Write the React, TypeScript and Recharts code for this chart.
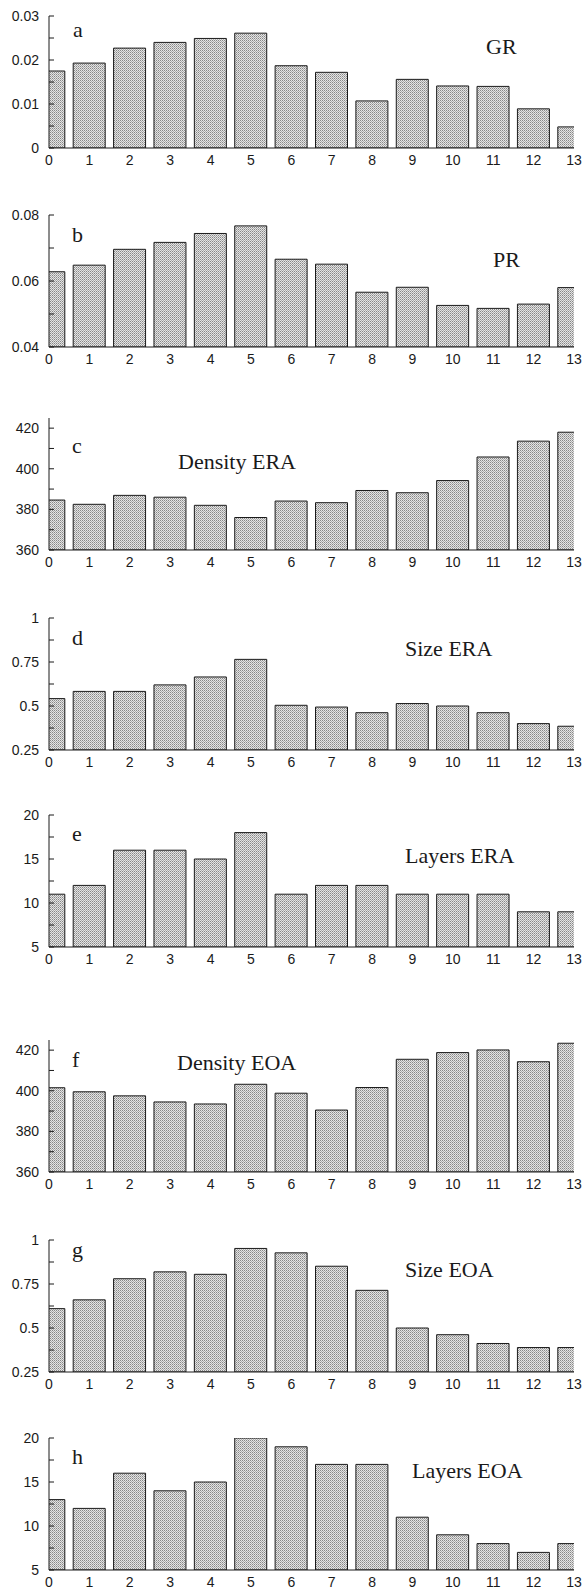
import React from "react";
import { BarChart, Bar, XAxis, YAxis } from "recharts";

// x positions (0..13) shared by every panel
const positions = [0, 1, 2, 3, 4, 5, 6, 7, 8, 9, 10, 11, 12, 13];
const topTicks = [1, 2, 3, 4, 5, 6, 7, 8, 9, 10, 11, 12];

const grValues = [0.0175, 0.0193, 0.0227, 0.024, 0.0249, 0.0261, 0.0187, 0.0172, 0.0107, 0.0156, 0.0141, 0.014, 0.0089, 0.0048];
const prValues = [0.0628, 0.0648, 0.0696, 0.0717, 0.0744, 0.0767, 0.0666, 0.0651, 0.0566, 0.0581, 0.0526, 0.0517, 0.053, 0.058];
const densityEra = [384.6, 382.5, 386.9, 386, 382, 376, 384.1, 383.3, 389.3, 388.2, 394.2, 405.8, 413.6, 418];
const sizeEra = [0.542, 0.583, 0.583, 0.62, 0.665, 0.765, 0.504, 0.494, 0.462, 0.514, 0.5, 0.462, 0.4, 0.385];
const layersEra = [11, 12, 16, 16, 15, 18, 11, 12, 12, 11, 11, 11, 9, 9];
const densityEoa = [401.5, 399.5, 397.5, 394.5, 393.5, 403.2, 398.8, 390.5, 401.6, 415.5, 418.8, 420.1, 414.3, 423.4];
const sizeEoa = [0.61, 0.66, 0.78, 0.819, 0.805, 0.952, 0.927, 0.851, 0.714, 0.5, 0.462, 0.412, 0.389, 0.389];
const layersEoa = [13, 12, 16, 14, 15, 20, 19, 17, 17, 11, 9, 8, 7, 8];

const grMajor = [0, 0.01, 0.02, 0.03];
const grMinor = [0.005, 0.015, 0.025];
const prMajor = [0.04, 0.06, 0.08];
const prMinor = [0.05, 0.07];
const densityMajor = [360, 380, 400, 420];
const densityMinor = [370, 390, 410];
const sizeMajor = [0.25, 0.5, 0.75, 1];
const sizeMinor = [0.375, 0.625, 0.875];
const layersMajor = [5, 10, 15, 20];
const layersMinor = [7.5, 12.5, 17.5];

const INK = "#1a1a1a";
const SANS = "'Liberation Sans', Arial, Helvetica, sans-serif";
const SERIF = "'Liberation Serif', 'Times New Roman', serif";
const PLOT_H = 132;
const M_TOP = 10;
const TICK_FONT = 14;

type PanelProps = {
  id: string;
  top: number;
  values: number[];
  domain: [number, number];
  major: number[];
  minor: number[];
  frameTop?: boolean;
};

function Panel({ id, top, values, domain, major, minor, frameTop = true }: PanelProps) {
  const data = positions.map((x, i) => ({ x, v: values[i] }));
  const ticks = [...major, ...minor].sort((a, b) => a - b);

  const leftTick = (p: any) => {
    const isMajor = major.includes(p.payload.value);
    return (
      <g>
        <line x1={p.x} x2={p.x + 5} y1={p.y} y2={p.y} stroke={INK} />
        {isMajor && (
          <text x={p.x - 10} y={p.y} dy="0.36em" textAnchor="end" fontSize={TICK_FONT} fontFamily={SANS} fill={INK}>
            {String(p.payload.value)}
          </text>
        )}
      </g>
    );
  };
  const rightTick = (p: any) => <line x1={p.x} x2={p.x - 5} y1={p.y} y2={p.y} stroke={INK} />;
  const topTick = (p: any) => <line x1={p.x} x2={p.x} y1={p.y} y2={p.y + 5} stroke={INK} />;
  const bottomTick = (p: any) => (
    <text x={p.x} y={p.y + 7} dy="0.71em" textAnchor="middle" fontSize={TICK_FONT} fontFamily={SANS} fill={INK}>
      {p.payload.value}
    </text>
  );

  return (
    <div style={{ position: "absolute", left: 0, top: top - M_TOP }}>
      <BarChart width={582} height={M_TOP + PLOT_H + 30} data={data} margin={{ top: M_TOP, right: 8, bottom: 0, left: 0 }}>
        <defs>
          <pattern id={`dots-${id}`} width="2" height="2" patternUnits="userSpaceOnUse">
            <rect width="2" height="2" fill="#e4e4e4" />
            <rect x="0" y="0" width="1" height="1" fill="#878787" />
            <rect x="1" y="1" width="1" height="1" fill="#acacac" />
          </pattern>
        </defs>
        <XAxis
          dataKey="x"
          type="number"
          domain={[0, 13]}
          ticks={positions}
          interval={0}
          allowDataOverflow
          height={30}
          tickLine={false}
          tickSize={0}
          tickMargin={0}
          axisLine={{ stroke: INK }}
          tick={bottomTick}
        />
        <XAxis
          xAxisId="top"
          orientation="top"
          dataKey="x"
          type="number"
          domain={[0, 13]}
          ticks={topTicks}
          interval={0}
          allowDataOverflow
          height={0}
          tickLine={false}
          tickSize={0}
          tickMargin={0}
          axisLine={frameTop ? { stroke: INK } : false}
          tick={topTick}
        />
        <YAxis
          type="number"
          domain={domain}
          ticks={ticks}
          interval={0}
          allowDataOverflow
          width={49}
          tickLine={false}
          tickSize={0}
          tickMargin={0}
          axisLine={{ stroke: INK }}
          tick={leftTick}
        />
        <YAxis
          yAxisId="right"
          orientation="right"
          type="number"
          domain={domain}
          ticks={ticks}
          interval={0}
          allowDataOverflow
          width={0}
          tickLine={false}
          tickSize={0}
          tickMargin={0}
          axisLine={{ stroke: INK }}
          tick={rightTick}
        />
        <Bar dataKey="v" barSize={32} fill={`url(#dots-${id})`} stroke={INK} strokeWidth={1} isAnimationActive={false} />
      </BarChart>
    </div>
  );
}

const labels: { text: string; x: number; y: number }[] = [
  { text: "a", x: 73, y: 37 },
  { text: "GR", x: 486, y: 54 },
  { text: "b", x: 72, y: 242 },
  { text: "PR", x: 493, y: 267 },
  { text: "c", x: 72, y: 453 },
  { text: "Density ERA", x: 178, y: 469 },
  { text: "d", x: 72, y: 645 },
  { text: "Size ERA", x: 405, y: 656 },
  { text: "e", x: 72, y: 841 },
  { text: "Layers ERA", x: 405, y: 863 },
  { text: "f", x: 72, y: 1067 },
  { text: "Density EOA", x: 177, y: 1070 },
  { text: "g", x: 72, y: 1257 },
  { text: "Size EOA", x: 405, y: 1277 },
  { text: "h", x: 72, y: 1464 },
  { text: "Layers EOA", x: 412, y: 1478 },
];

export default function App() {
  return (
    <div style={{ position: "absolute", left: 0, top: 0, width: 582, height: 1591, background: "#fff", overflow: "hidden" }}>
      <Panel id="a" top={16} values={grValues} domain={[0, 0.03]} major={grMajor} minor={grMinor} />
      <Panel id="b" top={215} values={prValues} domain={[0.04, 0.08]} major={prMajor} minor={prMinor} frameTop={false} />
      <Panel id="c" top={418} values={densityEra} domain={[360, 425]} major={densityMajor} minor={densityMinor} frameTop={false} />
      <Panel id="d" top={618} values={sizeEra} domain={[0.25, 1]} major={sizeMajor} minor={sizeMinor} />
      <Panel id="e" top={815} values={layersEra} domain={[5, 20]} major={layersMajor} minor={layersMinor} />
      <Panel id="f" top={1040} values={densityEoa} domain={[360, 425]} major={densityMajor} minor={densityMinor} />
      <Panel id="g" top={1240} values={sizeEoa} domain={[0.25, 1]} major={sizeMajor} minor={sizeMinor} />
      <Panel id="h" top={1438} values={layersEoa} domain={[5, 20]} major={layersMajor} minor={layersMinor} />
      <svg width={582} height={1591} style={{ position: "absolute", left: 0, top: 0, pointerEvents: "none" }}>
        {labels.map((l) => (
          <text key={l.text} x={l.x} y={l.y} fontSize={22} fontFamily={SERIF} fill={INK}>
            {l.text}
          </text>
        ))}
      </svg>
    </div>
  );
}
